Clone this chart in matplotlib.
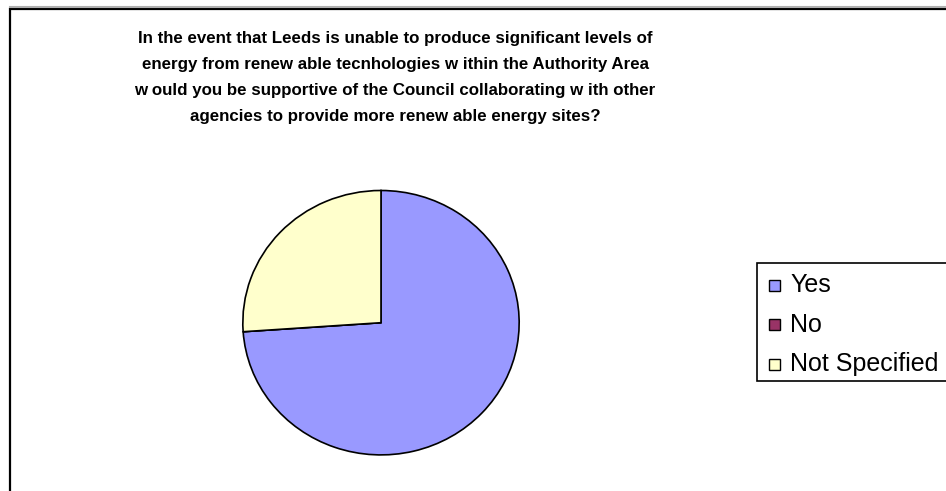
import matplotlib
matplotlib.use("Agg")
import matplotlib.pyplot as plt
from matplotlib.patches import Rectangle
from matplotlib.lines import Line2D

plt.rcParams['font.family'] = ['Liberation Sans', 'DejaVu Sans']

title_lines = [
    "In the event that Leeds is unable to produce significant levels of",
    "energy from renew able tecnhologies w ithin the Authority Area",
    "w ould you be supportive of the Council collaborating w ith other",
    "agencies to provide more renew able energy sites?",
]
labels = ["Yes", "No", "Not Specified"]
counts = [17, 0, 6]
colors = ["#9999FF", "#993366", "#FFFFCC"]

W, H = 946, 491
fig = plt.figure(figsize=(W / 100, H / 100), dpi=100)


def px(x, y):
    # pixel coords (top-left origin) -> figure fraction
    return x / W, 1 - y / H


# chart frame, runs off the right and bottom edges
fig.add_artist(Line2D([10 / W, 1.0], [1 - 7 / H, 1 - 7 / H], color="#b0b0b0", lw=1.5,
                      transform=fig.transFigure))
fig.add_artist(Rectangle(px(10, 600), 1000 / W, 591 / H, transform=fig.transFigure,
                         fill=False, ec="black", lw=1.6))

# title
for i, line in enumerate(title_lines):
    x, y = px(395, 43.5 + i * 26)
    fig.text(x, y, line, ha="center", va="baseline", fontsize=12.2,
             fontweight="bold", family=["Liberation Sans", "DejaVu Sans"])

# pie
cx, cy, rx, ry = 381, 322.7, 139, 133
ax = fig.add_axes([(cx - rx) / W, 1 - (cy + ry) / H, 2 * rx / W, 2 * ry / H])
ax.pie(counts, colors=colors, startangle=90, counterclock=False,
       wedgeprops={"edgecolor": "black", "linewidth": 1.2})
ax.set_aspect("auto")
ax.set_xlim(-1.006, 1.006)
ax.set_ylim(-1.006, 1.006)
ax.axis("off")

# legend box
fig.add_artist(Rectangle(px(757, 381), 300 / W, 118 / H, transform=fig.transFigure,
                         fill=True, fc="white", ec="black", lw=1.2))
for i, (lab, col) in enumerate(zip(labels, colors)):
    yc = 285 + i * 39.5
    fig.add_artist(Rectangle(px(769, yc + 5.5), 11 / W, 11 / H, transform=fig.transFigure,
                             fc=col, ec="black", lw=1.0))
    x, y = px(790, yc)
    fig.text(x, y, lab, ha="left", va="center", fontsize=18)

fig.savefig("out.png", dpi=100)
